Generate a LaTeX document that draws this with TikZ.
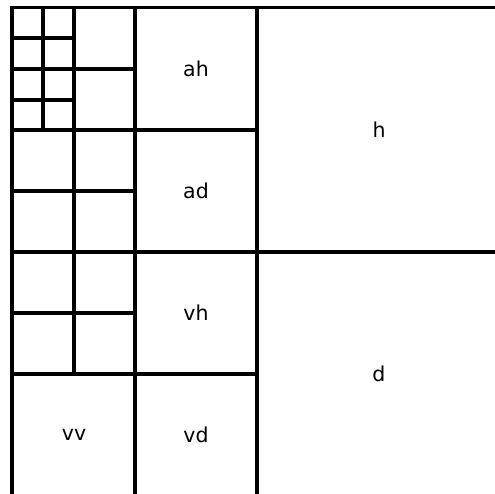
\documentclass[tikz,border=0pt]{standalone}
\usepackage{fontspec}
\setmainfont{DejaVu Sans}
\begin{document}
\begin{tikzpicture}[x=1pt,y=-1pt,
  grid/.style={line width=3.3pt,line cap=rect},
  lbl/.style={font=\fontsize{20.5}{24}\selectfont,inner sep=0pt}]
\useasboundingbox (0,0) rectangle (495,494);
% outer
\draw[grid] (12,494) -- (12,7.5) -- (495,7.5);
% verticals
\draw[grid] (43,8) -- (43,130);
\draw[grid] (74,8) -- (74,374);
\draw[grid] (135,8) -- (135,494);
\draw[grid] (257,8) -- (257,494);
% horizontals
\draw[grid] (12,38) -- (74,38);
\draw[grid] (12,69) -- (135,69);
\draw[grid] (12,100) -- (74,100);
\draw[grid] (12,130) -- (257,130);
\draw[grid] (12,191) -- (135,191);
\draw[grid] (12,252) -- (495,252);
\draw[grid] (12,313) -- (135,313);
\draw[grid] (12,374) -- (257,374);
% labels
\node[lbl] (ah) at (196,69) {ah};
\node[lbl] (h) at (379,130) {h};
\node[lbl] (ad) at (196,191) {ad};
\node[lbl] (vh) at (196,313) {vh};
\node[lbl] (d) at (379,374) {d};
\node[lbl] (vv) at (74,435) {vv};
\node[lbl] (vd) at (196,435) {vd};
\end{tikzpicture}
\end{document}
